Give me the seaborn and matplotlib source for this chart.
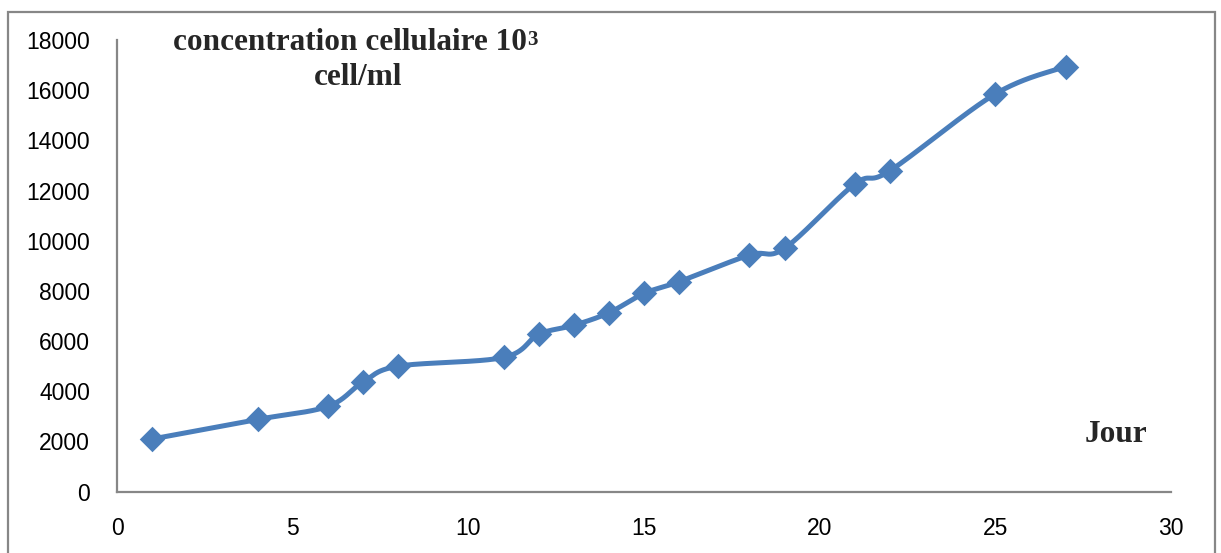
import numpy as np
import pandas as pd
import matplotlib
matplotlib.use("Agg")
import matplotlib.pyplot as plt
from matplotlib.patches import Rectangle
import seaborn as sns

# Cell concentration over the culture period
jours = [1, 4, 6, 7, 8, 11, 12, 13, 14, 15, 16, 18, 19, 21, 22, 25, 27]
concentration = [2100, 2880, 3400, 4370, 5000, 5350, 6270, 6630, 7130,
                 7900, 8370, 9430, 9700, 12260, 12790, 15850, 16940]
y_ticks = [0, 2000, 4000, 6000, 8000, 10000, 12000, 14000, 16000, 18000]
x_ticks = [0, 5, 10, 15, 20, 25, 30]

LINE_COLOR = "#4A7EBB"
AXIS_COLOR = "#878787"


def smooth_curve(xs, ys, n=40):
    """Cubic Bezier smoothing through every point (cardinal spline, tension 1/6)."""
    p = np.column_stack([xs, ys]).astype(float)
    ext = np.vstack([p[0], p, p[-1]])
    t = np.linspace(0, 1, n)[:, None]
    out = []
    for i in range(1, len(ext) - 2):
        p0, p1, p2, p3 = ext[i - 1], ext[i], ext[i + 1], ext[i + 2]
        c1 = p1 + (p2 - p0) / 6.0
        c2 = p2 - (p3 - p1) / 6.0
        seg = ((1 - t) ** 3) * p1 + 3 * ((1 - t) ** 2) * t * c1 \
            + 3 * (1 - t) * t ** 2 * c2 + t ** 3 * p2
        out.append(seg if i == 1 else seg[1:])
    return np.vstack(out)


sns.set_theme(style="white")
plt.rcParams["font.family"] = ["Liberation Sans", "DejaVu Sans"]

fig = plt.figure(figsize=(12.21, 5.53), dpi=100, facecolor="white")
ax = fig.add_axes([0.096, 0.1109, 0.863, 0.8168])

curve = smooth_curve(jours, concentration)
curve_df = pd.DataFrame({"jour": curve[:, 0], "conc": curve[:, 1]})
sns.lineplot(data=curve_df, x="jour", y="conc", sort=False, estimator=None,
             color=LINE_COLOR, linewidth=3.6, ax=ax, zorder=2)

pts = pd.DataFrame({"jour": jours, "conc": concentration})
sns.scatterplot(data=pts, x="jour", y="conc", marker="D", s=13 ** 2,
                color=LINE_COLOR, linewidth=0, ax=ax, zorder=3)

ax.set_xlim(0, 30)
ax.set_ylim(0, 18000)
ax.set_xticks(x_ticks)
ax.set_yticks(y_ticks)
ax.set_xticklabels([str(v) for v in x_ticks])
ax.set_yticklabels([str(v) for v in y_ticks])
ax.tick_params(axis="both", length=0, labelsize=16.5, colors="black")
ax.tick_params(axis="y", pad=19.5)
ax.tick_params(axis="x", pad=18)
ax.set_xlabel("")
ax.set_ylabel("")
ax.grid(False)
for side in ["top", "right"]:
    ax.spines[side].set_visible(False)
for side in ["left", "bottom"]:
    ax.spines[side].set_color(AXIS_COLOR)
    ax.spines[side].set_linewidth(1.6)

# Titles in bold serif
serif = ["Liberation Serif", "DejaVu Serif"]
t1 = fig.text(173 / 1221, 1 - 50 / 553, "concentration cellulaire 10",
              family=serif, weight="bold", fontsize=22.5,
              ha="left", va="baseline")
ax.annotate("3", xy=(1.0, 1.0), xycoords=t1, xytext=(0.3, -1.5),
            textcoords="offset points", family=serif, weight="bold",
            fontsize=15, ha="left", va="top", annotation_clip=False)
fig.text(358.5 / 1221, 1 - 85 / 553, "cell/ml", family=serif,
         weight="bold", fontsize=22.5, ha="center", va="baseline")
fig.text(1116 / 1221, 1 - 442 / 553, "Jour", family=serif,
         weight="bold", fontsize=22.5, ha="center", va="baseline")

# Outer chart frame
fig.patches.append(Rectangle((8 / 1221, -0.05), (1215 - 8) / 1221,
                             1.05 - 12 / 553, transform=fig.transFigure,
                             fill=False, edgecolor=AXIS_COLOR, linewidth=1.6,
                             clip_on=False))

fig.savefig("out.png", dpi=100, facecolor="white")
